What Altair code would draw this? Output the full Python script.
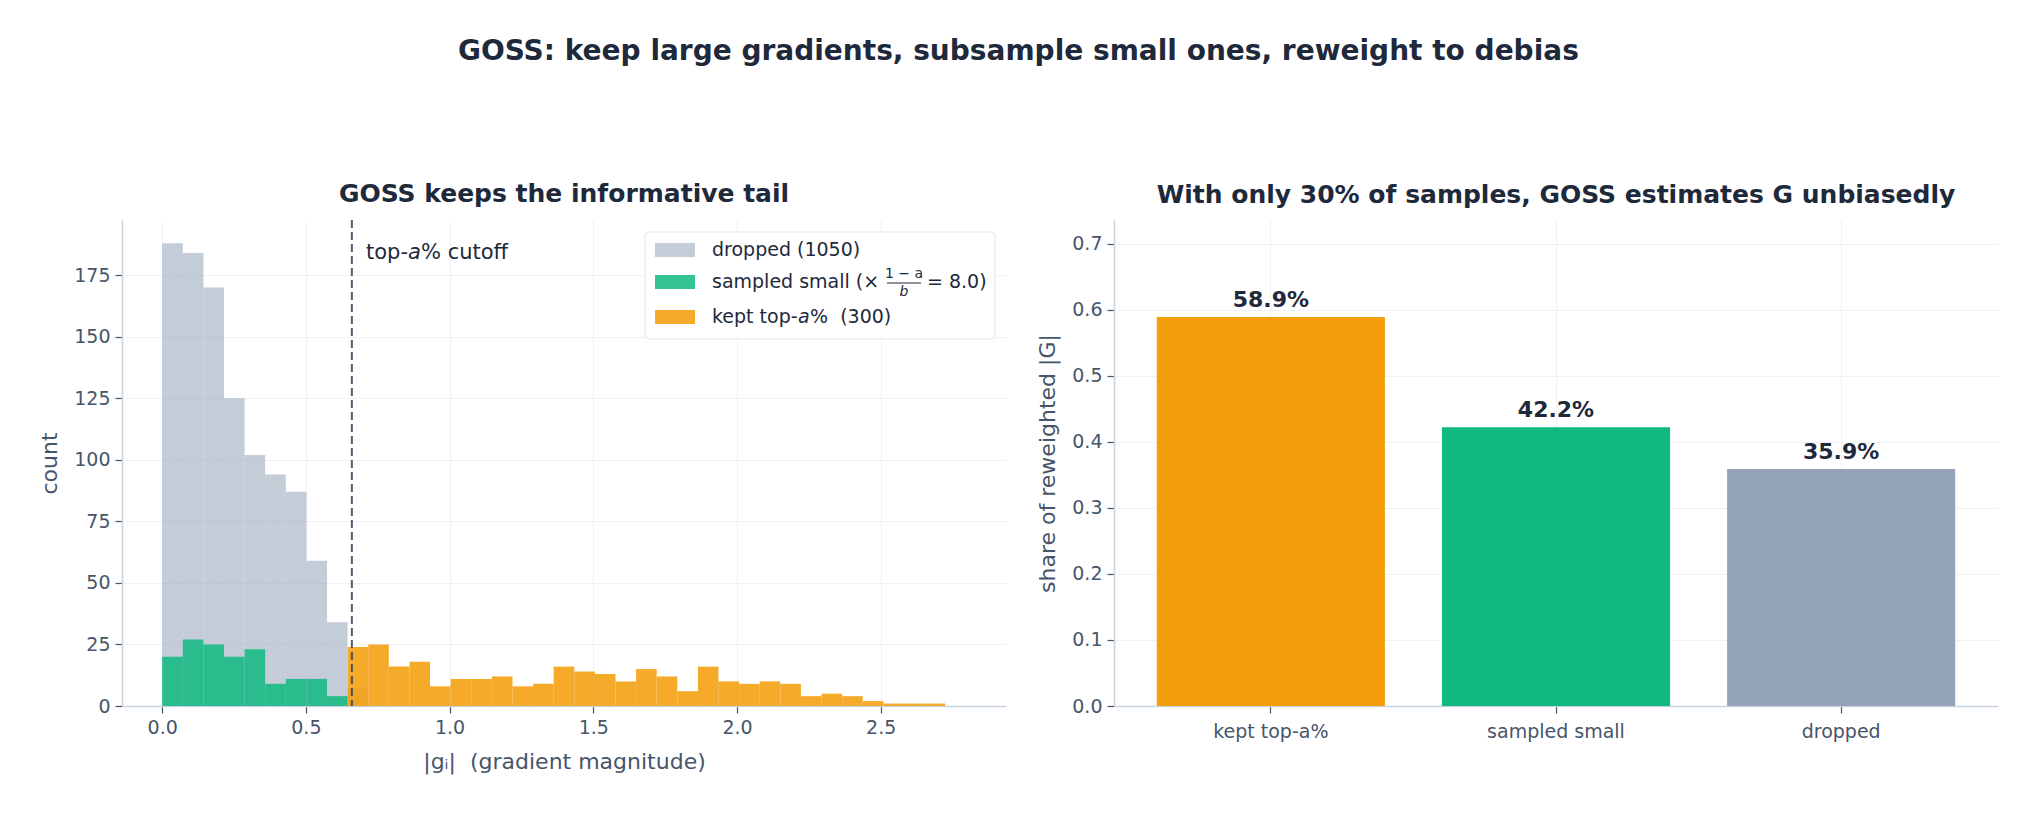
import altair as alt
import numpy as np
import pandas as pd

# ---------------- data ----------------
BIN_MAX = 2.796
N_BINS = 39
CUTOFF = 0.66

dropped_counts = [188, 184, 170, 125, 102, 94, 87, 59, 34, 7] + [0] * 29
sampled_counts = [20, 27, 25, 20, 23, 9, 11, 11, 4] + [0] * 30
kept_counts = [0] * 9 + [24, 25, 16, 18, 8, 11, 11, 12, 8, 9,
                         16, 14, 13, 10, 15, 12, 6, 16, 10, 9,
                         10, 9, 4, 5, 4, 2, 1, 1, 1, 0]

categories = ["kept top-a%", "sampled small", "dropped"]
shares = [0.589, 0.422, 0.359]
bar_colors = ["#f59e0b", "#10b981", "#94a3b8"]

x_ticks = [0.0, 0.5, 1.0, 1.5, 2.0, 2.5]
y_ticks_left = [0, 25, 50, 75, 100, 125, 150, 175]
y_ticks_right = [0.0, 0.1, 0.2, 0.3, 0.4, 0.5, 0.6, 0.7]

FONT = "DejaVu Sans"
DARK = "#1e293b"
MID = "#475569"
NBSP = "\u00a0"

edges = np.linspace(0, BIN_MAX, N_BINS + 1)

W, H = 884, 486

x_scale = alt.Scale(domain=[-0.1398, 2.936], nice=False, zero=False)
y_scale = alt.Scale(domain=[0, 197.4], nice=False)
x_axis = alt.Axis(values=x_ticks, format=".1f", title="|gᵢ|" + NBSP + NBSP + "(gradient magnitude)",
                  grid=True, titlePadding=14)
y_axis = alt.Axis(values=y_ticks_left, format="d", title="count", grid=True)


def hist_layer(counts, color, opacity):
    df = pd.DataFrame({"lo": edges[:-1], "hi": edges[1:], "count": counts})
    return alt.Chart(df).mark_rect(color=color, opacity=opacity).encode(
        x=alt.X("lo:Q", scale=x_scale, axis=x_axis),
        x2="hi:Q",
        y=alt.Y("count:Q", scale=y_scale, axis=y_axis),
        y2=alt.datum(0),
    )


gray = hist_layer(dropped_counts, "#94a3b8", 0.55)
green = hist_layer(sampled_counts, "#10b981", 0.85)
orange = hist_layer(kept_counts, "#f59e0b", 0.88)

cut = alt.Chart(pd.DataFrame({"c": [CUTOFF]})).mark_rule(
    color="#334155", strokeDash=[8, 4], strokeWidth=2, opacity=0.85
).encode(x=alt.X("c:Q", scale=x_scale))

one = pd.DataFrame({"k": [0]})


def txt(s, x, y, size=19, style="normal", align="left", color=DARK):
    return alt.Chart(one).mark_text(
        text=s, font=FONT, fontSize=size, fontStyle=style, align=align,
        baseline="middle", color=color
    ).encode(x=alt.value(x), y=alt.value(y))


cut_label = txt("top-", 244, 33, 21) + txt("a", 286, 33, 21, "italic") + txt("% cutoff", 299, 33, 21)

legend_box = alt.Chart(one).mark_rect(
    fill="white", fillOpacity=0.9, stroke="#e2e8f0", strokeWidth=1.2, cornerRadius=4
).encode(x=alt.value(523), x2=alt.value(873), y=alt.value(12), y2=alt.value(119))


def swatch(color, opacity, yc):
    return alt.Chart(one).mark_rect(color=color, opacity=opacity).encode(
        x=alt.value(533), x2=alt.value(573), y=alt.value(yc - 7), y2=alt.value(yc + 7)
    )


frac_bar = alt.Chart(one).mark_rule(color=DARK, strokeWidth=1).encode(
    x=alt.value(765), x2=alt.value(799), y=alt.value(63), y2=alt.value(63)
)

legend = (
    legend_box
    + swatch("#94a3b8", 0.55, 30) + txt("dropped (1050)", 590, 30)
    + swatch("#10b981", 0.85, 62) + txt("sampled small (×", 590, 62)
    + txt("1 − a", 782, 54, 14, align="center") + frac_bar + txt("b", 782, 72, 14, "italic", "center")
    + txt("= 8.0)", 805, 62)
    + swatch("#f59e0b", 0.88, 97) + txt("kept top-", 590, 97) + txt("a", 676, 97, 19, "italic")
    + txt("%" + NBSP + NBSP + "(300)", 688, 97)
)

left = alt.layer(gray, green, orange, cut, cut_label, legend).properties(
    width=W, height=H,
    title=alt.TitleParams("GOSS keeps the informative tail", fontSize=25, anchor="middle",
                          frame="group", offset=12),
)

# ---------------- right panel ----------------
df_bar = pd.DataFrame({"cat": categories, "share": shares})
bx = alt.X("cat:N", sort=categories,
           scale=alt.Scale(paddingInner=0.2, paddingOuter=0.15),
           axis=alt.Axis(title=None, labelAngle=0, bandPosition=0.5, grid=True, labelPadding=9))
by = alt.Y("share:Q", scale=alt.Scale(domain=[0, 0.736], nice=False),
           axis=alt.Axis(values=y_ticks_right, format=".1f", title="share of reweighted |G|", grid=True))
bars = alt.Chart(df_bar).mark_bar().encode(
    x=bx, y=by,
    color=alt.Color("cat:N", scale=alt.Scale(domain=categories, range=bar_colors), legend=None),
)
labels = alt.Chart(df_bar).mark_text(
    baseline="bottom", dy=-5, fontWeight="bold", fontSize=22, font=FONT, color=DARK
).encode(x=bx, y=by, text=alt.Text("share:Q", format=".1%"))

right = alt.layer(bars, labels).properties(
    width=W, height=H,
    title=alt.TitleParams("With only 30% of samples, GOSS estimates G unbiasedly", fontSize=25,
                          anchor="middle", frame="group", offset=12),
)

chart = alt.hconcat(left, right, spacing=30).properties(
    title=alt.TitleParams("GOSS: keep large gradients, subsample small ones, reweight to debias",
                          fontSize=28, anchor="middle", offset=116),
    padding={"left": 38, "top": 38, "right": 5, "bottom": 5},
    background="white",
).configure_axis(
    labelFont=FONT, labelFontSize=19, labelColor=MID,
    titleFont=FONT, titleFontSize=22, titleColor=MID, titleFontWeight="normal",
    domainColor="#cbd5e1", domainWidth=1.6,
    tickColor=MID, tickSize=7, tickWidth=1.2, labelPadding=5, titlePadding=12,
    gridColor="#e2e8f0", gridOpacity=0.6, gridWidth=1,
).configure_view(stroke=None).configure_title(
    font=FONT, color=DARK, fontWeight="bold"
)

chart.save("out.html", embed_options={"renderer": "svg", "actions": False})
